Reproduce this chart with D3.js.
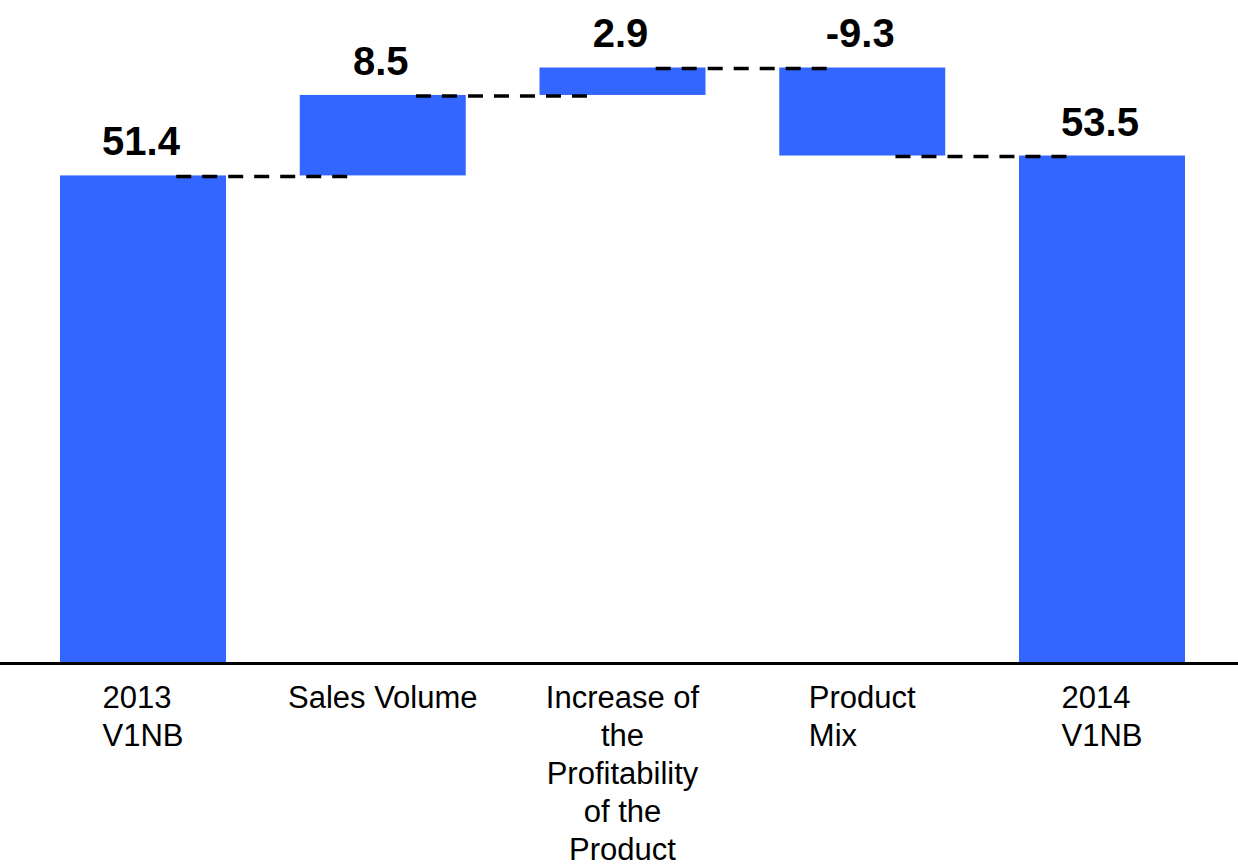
<!DOCTYPE html>
<html>
<head>
<meta charset="utf-8">
<script src="https://cdn.jsdelivr.net/npm/d3@7"></script>
<style>
  html, body { margin: 0; padding: 0; background: #ffffff; }
  svg { display: block; }
  text { font-family: "Liberation Sans", Arial, sans-serif; }
</style>
</head>
<body>
<svg id="chart" width="1238" height="866"></svg>
<script>
// ---- data ----
const categories = ["2013 V1NB", "Sales Volume", "Increase of the Profitability of the Product", "Product Mix", "2014 V1NB"];
const labelLines = [["2013", "V1NB"], ["Sales Volume"], ["Increase of", "the", "Profitability", "of the", "Product"], ["Product", "Mix"], ["2014", "V1NB"]];
const values = [51.4, 8.5, 2.9, -9.3, 53.5];
const isTotal = [true, false, false, false, true];
const valueLabels = ["51.4", "8.5", "2.9", "-9.3", "53.5"];

// ---- derive waterfall spans ----
let running = 0;
const bars = categories.map((c, i) => {
  let start, end;
  if (isTotal[i]) { start = 0; end = values[i]; running = values[i]; }
  else { start = running; end = running + values[i]; running = end; }
  return { cat: c, i, start, end, lines: labelLines[i], label: valueLabels[i] };
});

const svg = d3.select("#chart");
const W = 1238, H = 866;

const x = d3.scaleBand().domain(categories).range([60, 1185]).paddingInner(0.3076).paddingOuter(0);
const y = d3.scaleLinear().domain([0, 60]).range([662, 94]);
const bw = x.bandwidth();
const step = x.step();

// connectors (dashed)
const conns = bars.slice(0, -1).map((b, i) => ({ level: b.end, x0: x(b.cat) + bw * 0.7, x1: x(bars[i + 1].cat) + bw * 0.3 }));

// bars
svg.append("g").selectAll("rect").data(bars).join("rect")
  .attr("x", d => x(d.cat))
  .attr("width", bw)
  .attr("y", d => y(Math.max(d.start, d.end)))
  .attr("height", d => Math.abs(y(d.start) - y(d.end)))
  .attr("fill", "#3366ff");

svg.append("g").selectAll("line").data(conns).join("line")
  .attr("x1", d => d.x0).attr("x2", d => d.x1)
  .attr("y1", d => y(d.level) + 1).attr("y2", d => y(d.level) + 1)
  .attr("stroke", "#000").attr("stroke-width", 3.5)
  .attr("stroke-dasharray", "15,11");

// axis baseline
svg.append("line")
  .attr("x1", 0).attr("x2", W)
  .attr("y1", y(0) + 1.5).attr("y2", y(0) + 1.5)
  .attr("stroke", "#000").attr("stroke-width", 3);

// value labels
svg.append("g").selectAll("text").data(bars).join("text")
  .attr("x", d => x(d.cat) + bw / 2 - 2)
  .attr("y", d => y(Math.max(d.start, d.end)) - 20)
  .attr("text-anchor", "middle")
  .attr("font-size", 40)
  .attr("font-weight", "bold")
  .attr("fill", "#000")
  .text(d => d.label);

// category labels
const lineH = 38;
const labG = svg.append("g");
bars.forEach(b => {
  const centered = b.lines.length > 2;
  const t = labG.append("text")
    .attr("font-size", 31)
    .attr("fill", "#000")
    .attr("text-anchor", centered ? "middle" : "start");
  b.lines.forEach((ln, k) => {
    t.append("tspan").attr("y", y(0) + 46 + k * lineH).text(ln);
  });
  // measure widest line to center block under bar
  const cx = x(b.cat) + bw / 2;
  if (centered) {
    t.selectAll("tspan").attr("x", cx);
  } else {
    let maxW = 0;
    t.selectAll("tspan").each(function () { maxW = Math.max(maxW, this.getComputedTextLength()); });
    t.selectAll("tspan").attr("x", cx - maxW / 2);
  }
});
</script>
</body>
</html>
